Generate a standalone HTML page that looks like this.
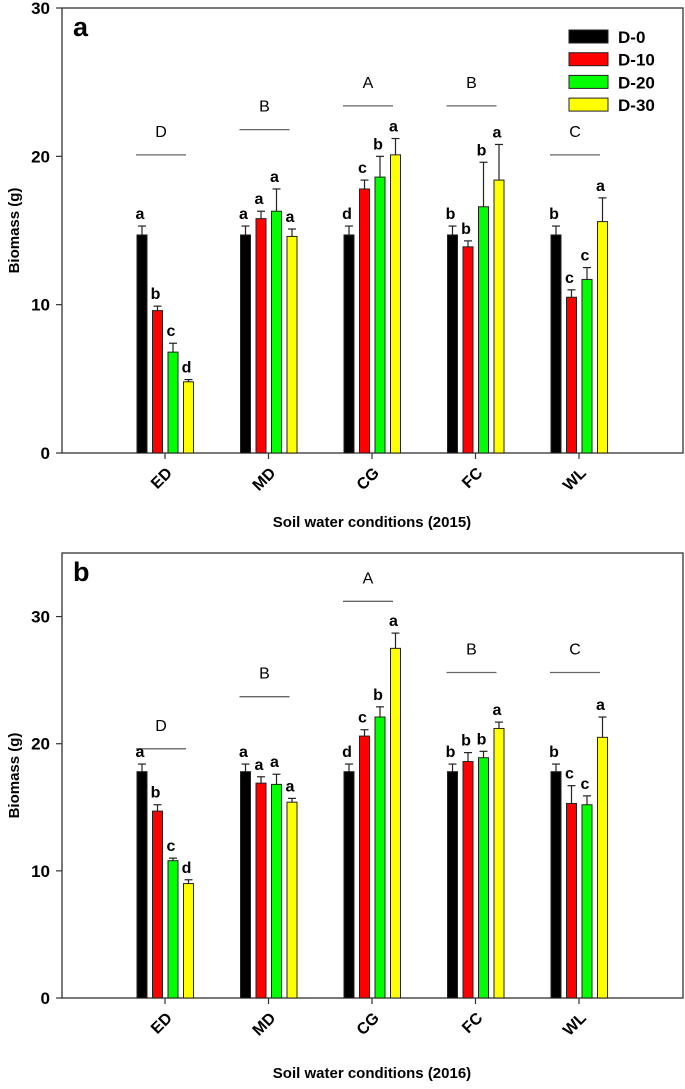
<!DOCTYPE html>
<html><head><meta charset="utf-8"><style>
body{margin:0;background:#fff;}
svg text{font-family:"Liberation Sans",Arial,sans-serif;}
</style></head><body>
<svg id="chart" width="685" height="1084" xmlns="http://www.w3.org/2000/svg"></svg>
<script>
const categories=["ED","MD","CG","FC","WL"];
const seriesNames=["D-0","D-10","D-20","D-30"];
const colors=["#000000","#ff0000","#00ff00","#ffff00"];
const aValues=[[14.7,9.6,6.8,4.8],[14.7,15.8,16.3,14.6],[14.7,17.8,18.6,20.1],[14.7,13.9,16.6,18.4],[14.7,10.5,11.7,15.6]];
const aErrors=[[0.6,0.3,0.6,0.15],[0.6,0.5,1.5,0.5],[0.6,0.6,1.4,1.1],[0.6,0.4,3.0,2.4],[0.6,0.5,0.8,1.6]];
const aLetters=[["a","b","c","d"],["a","a","a","a"],["d","c","b","a"],["b","b","b","a"],["b","c","c","a"]];
const aGroupLetters=["D","B","A","B","C"];
const aGroupLineY=[20.1,21.8,23.4,23.4,20.1];
const aTicks=[0,10,20,30];
const bValues=[[17.8,14.7,10.8,9.0],[17.8,16.9,16.8,15.4],[17.8,20.6,22.1,27.5],[17.8,18.6,18.9,21.2],[17.8,15.3,15.2,20.5]];
const bErrors=[[0.6,0.5,0.2,0.3],[0.6,0.5,0.8,0.3],[0.6,0.5,0.8,1.2],[0.6,0.7,0.5,0.5],[0.6,1.4,0.7,1.6]];
const bLetters=[["a","b","c","d"],["a","a","a","a"],["d","c","b","a"],["b","b","b","a"],["b","c","c","a"]];
const bGroupLetters=["D","B","A","B","C"];
const bGroupLineY=[19.6,23.7,31.2,25.6,25.6];
const bTicks=[0,10,20,30];

const svg=document.getElementById('chart');
const NS="http://www.w3.org/2000/svg";
function mk(tag,attrs,parent,text){const e=document.createElementNS(NS,tag);for(const k in attrs)e.setAttribute(k,attrs[k]);if(text!==undefined)e.textContent=text;(parent||svg).appendChild(e);return e;}
const L=62,R=683,groupX0=165,groupStep=103.5,offs=[-23,-7.5,8,23.5],bw=10;
function panel(id,top,bottom,ymax,vals,errs,lets,gl,gly,ticks,year,labelY,titleY){
  const g=mk('g',{},svg);
  
  
  const y=v=>bottom-(v/ymax)*(bottom-top);
  const x=i=>groupX0+i*groupStep;
  const fr=mk('rect',{x:L,y:top,width:R-L,height:bottom-top,fill:'none',stroke:'#333','stroke-width':1.3},g);
  
  const pl=mk('text',{x:73,y:top+28,'font-size':27,'font-weight':'bold'},g,id);
  
  ticks.forEach(t=>{
    mk('line',{x1:L-6,x2:L,y1:y(t),y2:y(t),stroke:'#333','stroke-width':1.2},g);
    const tl=mk('text',{x:L-12,y:y(t)+6,'font-size':17,'font-weight':'bold','text-anchor':'end'},g,t);
    
  });
  const yt=mk('text',{x:0,y:0,'font-size':15,'font-weight':'bold','text-anchor':'middle',transform:`translate(19,${(top+bottom)/2}) rotate(-90)`},g,'Biomass (g)');
  
  categories.forEach((c,i)=>{
    mk('line',{x1:x(i),x2:x(i),y1:bottom,y2:bottom+6,stroke:'#333','stroke-width':1.2},g);
    const cl=mk('text',{x:0,y:0,'font-size':16,'font-weight':'bold','text-anchor':'end',transform:`translate(${x(i)+8},${labelY}) rotate(-45)`},g,c);
    
    const ly=y(gly[i]);
    const gline=mk('line',{x1:x(i)-29,x2:x(i)+21,y1:ly,y2:ly,stroke:'#666','stroke-width':1.3},g);
    
    const gt=mk('text',{x:x(i)-4,y:ly-18,'font-size':16,'text-anchor':'middle'},g,gl[i]);
    
    vals[i].forEach((v,s)=>{
      const bx=x(i)+offs[s];
      const b=mk('rect',{x:bx-bw/2,y:y(v),width:bw,height:bottom-y(v),fill:colors[s],stroke:'#222','stroke-width':1},g);
      
      const et=y(v+errs[i][s]);
      mk('line',{x1:bx,x2:bx,y1:y(v),y2:et,stroke:'#222','stroke-width':1.2},g);
      mk('line',{x1:bx-4,x2:bx+4,y1:et,y2:et,stroke:'#222','stroke-width':1.2},g);
      const lt=mk('text',{x:bx-2,y:et-7,'font-size':16,'font-weight':'bold','text-anchor':'middle'},g,lets[i][s]);
      
    });
  });
  const xt=mk('text',{x:372,y:titleY,'font-size':15,'font-weight':'bold','text-anchor':'middle'},g,'Soil water conditions ('+year+')');
  
}
panel('a',8,453,30,aValues,aErrors,aLetters,aGroupLetters,aGroupLineY,aTicks,2015,474,527);
panel('b',553,998,35,bValues,bErrors,bLetters,bGroupLetters,bGroupLineY,bTicks,2016,1019,1078);
const lg=mk('g',{},svg);

seriesNames.forEach((n,s)=>{
  const yy=30+s*22.7;
  const sw=mk('rect',{x:569,y:yy,width:39,height:13,fill:colors[s],stroke:'#222','stroke-width':1},lg);
  
  const t=mk('text',{x:618,y:yy+13,'font-size':17,'font-weight':'bold'},lg,n);
  
});
</script>
</body></html>
